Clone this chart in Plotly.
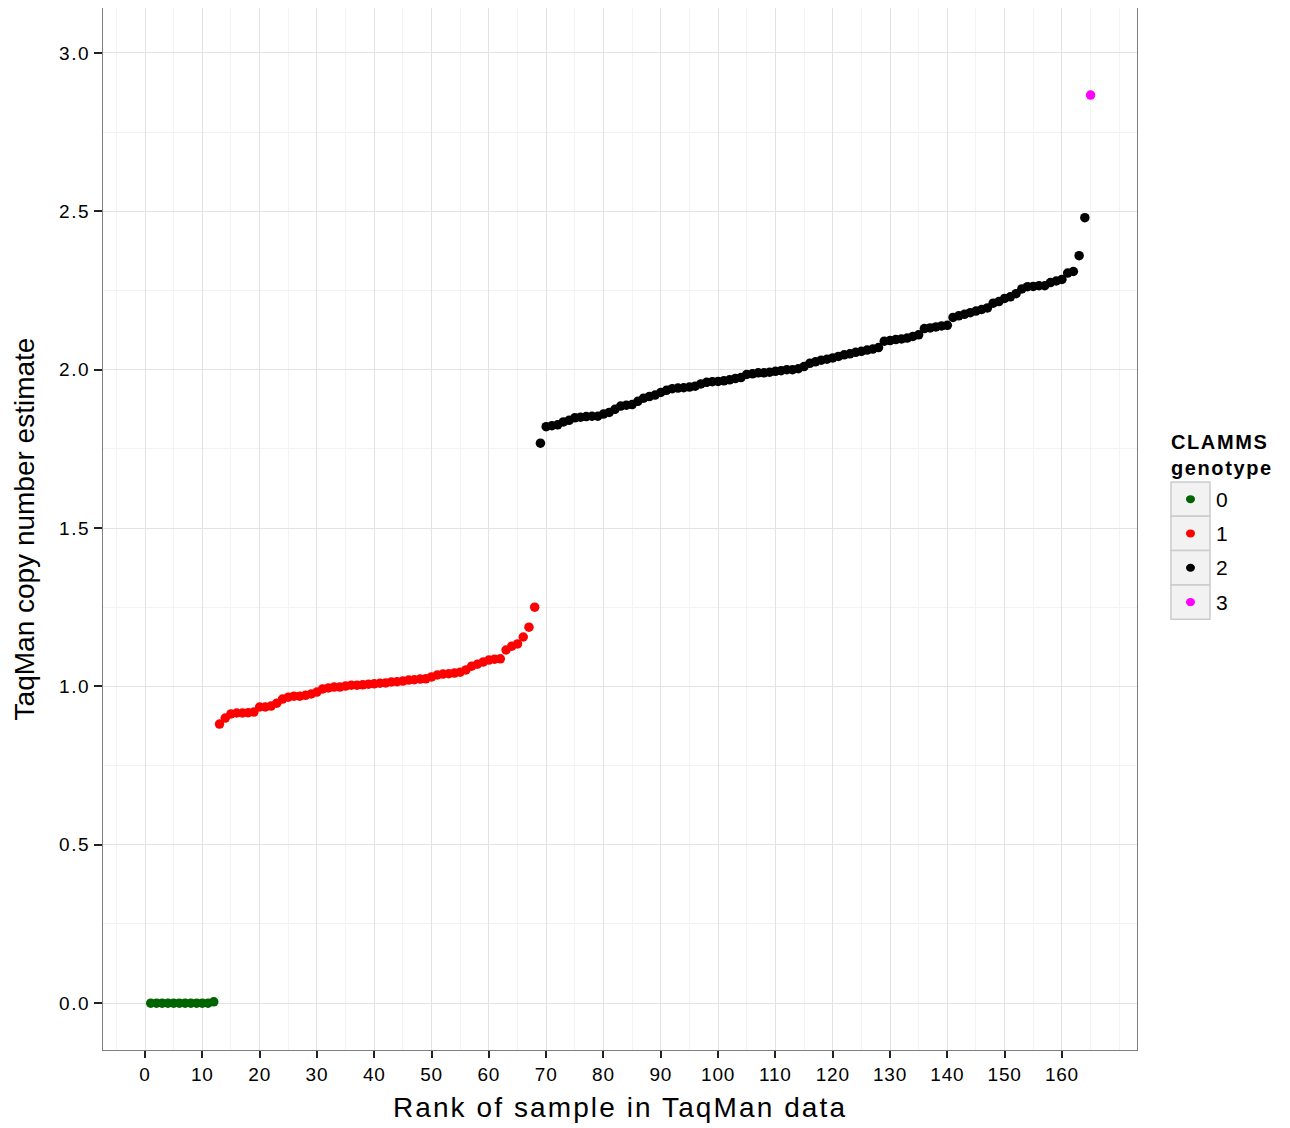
import plotly.graph_objects as go

# ---- data ----
green_rank = list(range(1, 13))
green_val = [0.0, 0.0, 0.0, 0.0, 0.0, 0.0, 0.0, 0.0, 0.0, 0.0, 0.0, 0.004]

red_rank = list(range(13, 69))
red_val = [0.881, 0.900, 0.913, 0.916, 0.916, 0.917, 0.919, 0.935, 0.935, 0.938,
           0.947, 0.960, 0.966, 0.969, 0.969, 0.972, 0.976, 0.982, 0.992, 0.995,
           0.998, 0.998, 1.001, 1.004, 1.004, 1.005, 1.007, 1.008, 1.010, 1.011,
           1.014, 1.015, 1.017, 1.020, 1.021, 1.023, 1.024, 1.030, 1.036, 1.039,
           1.040, 1.042, 1.045, 1.052, 1.064, 1.070, 1.077, 1.083, 1.086, 1.087,
           1.115, 1.127, 1.134, 1.156, 1.187, 1.250]

black_rank = list(range(69, 165))
black_val = [1.768, 1.820, 1.823, 1.826, 1.835, 1.840, 1.848, 1.850, 1.852, 1.853,
             1.853, 1.860, 1.865, 1.875, 1.885, 1.888, 1.890, 1.900, 1.910, 1.915,
             1.920, 1.928, 1.935, 1.940, 1.942, 1.943, 1.945, 1.948, 1.955, 1.960,
             1.962, 1.963, 1.965, 1.968, 1.972, 1.975, 1.985, 1.987, 1.990, 1.990,
             1.992, 1.995, 1.997, 2.000, 2.000, 2.003, 2.010, 2.020, 2.025, 2.030,
             2.033, 2.037, 2.042, 2.047, 2.050, 2.055, 2.058, 2.062, 2.065, 2.070,
             2.090, 2.092, 2.095, 2.097, 2.100, 2.105, 2.110, 2.130, 2.132, 2.135,
             2.138, 2.140, 2.165, 2.170, 2.175, 2.180, 2.185, 2.190, 2.195, 2.210,
             2.215, 2.225, 2.230, 2.240, 2.255, 2.262, 2.263, 2.265, 2.265, 2.275,
             2.280, 2.285, 2.305, 2.310, 2.360, 2.480]

magenta_rank = [165]
magenta_val = [2.867]

legend_labels = ["0", "1", "2", "3"]
colors = ["#006400", "#FF0000", "#000000", "#FF00FF"]

x_ticks = list(range(0, 170, 10))
y_ticks = [0.0, 0.5, 1.0, 1.5, 2.0, 2.5, 3.0]

# ---- figure ----
fig = go.Figure()
series = [(green_rank, green_val), (red_rank, red_val),
          (black_rank, black_val), (magenta_rank, magenta_val)]
for (xs, ys), c, lab in zip(series, colors, legend_labels):
    fig.add_trace(go.Scatter(x=xs, y=ys, mode="markers", name=lab,
                             marker=dict(color=c, size=9.5, line=dict(width=0)),
                             showlegend=False))

FONT = "Liberation Sans, Arial, sans-serif"
OFF = 8  # page body offset
W, H = 1282, 1120
L, R, T, B = 103 - OFF, 1137 - OFF, 0, 1050 - OFF


def sp(text, ls):
    return '<span style="letter-spacing:%spx">%s</span>' % (ls, text)


fig.update_layout(
    width=W, height=H,
    margin=dict(l=L, r=W - R, t=T, b=H - B, pad=0),
    paper_bgcolor="white", plot_bgcolor="white",
    font=dict(family=FONT, color="#000000"),
)

fig.update_xaxes(
    range=[-7.33, 173.1], tickvals=x_ticks, ticktext=[sp(str(v), 0.8) for v in x_ticks],
    showgrid=True, gridcolor="#e3e3e3", gridwidth=1,
    minor=dict(dtick=5, tick0=5, showgrid=True, gridcolor="#f3f3f3", gridwidth=1, ticks=""),
    showline=True, linecolor="#7f7f7f", linewidth=1, mirror=True,
    ticks="outside", ticklen=7, tickcolor="#222222", tickwidth=2,
    tickfont=dict(size=19, family=FONT, color="#000000"),
    zeroline=False,
    title=dict(text=sp("Rank of sample in TaqMan data", 2.1),
               font=dict(size=28, family=FONT), standoff=13),
)
fig.update_yaxes(
    range=[-0.148, 3.142], tickvals=y_ticks, ticktext=[sp("%.1f" % v, 1.6) for v in y_ticks],
    showgrid=True, gridcolor="#e3e3e3", gridwidth=1,
    minor=dict(dtick=0.25, tick0=0.25, showgrid=True, gridcolor="#f3f3f3", gridwidth=1, ticks=""),
    showline=True, linecolor="#7f7f7f", linewidth=1, mirror=True,
    ticks="outside", ticklen=8, tickcolor="#222222", tickwidth=2,
    tickfont=dict(size=19, family=FONT, color="#000000"),
    zeroline=False,
    title=dict(text="TaqMan copy number estimate", font=dict(size=28, family=FONT), standoff=16),
)

# ---- manual legend (ggplot style) ----
def px(xp):
    return (xp - OFF - L) / (R - L)


def py(yp):
    return (B - (yp - OFF)) / (B - T)


fig.add_annotation(x=px(1169), y=py(429), xref="paper", yref="paper",
                   text="<b>" + sp("CLAMMS", 1.6) + "<br>" + sp("genotype", 1.6) + "</b>",
                   showarrow=False, xanchor="left", yanchor="top", align="left",
                   font=dict(size=20, family=FONT, color="#000000"))
row_top = 482
row_h = 34.3
for i, (lab, c) in enumerate(zip(legend_labels, colors)):
    y0 = row_top + i * row_h
    y1 = y0 + row_h
    fig.add_shape(type="rect", xref="paper", yref="paper",
                  x0=px(1171), x1=px(1210), y0=py(y1), y1=py(y0),
                  line=dict(color="#cccccc", width=1.5), fillcolor="#f2f2f2", layer="above")
    cy = (y0 + y1) / 2
    fig.add_shape(type="circle", xref="paper", yref="paper",
                  xsizemode="pixel", ysizemode="pixel",
                  xanchor=px(1190.5), yanchor=py(cy),
                  x0=-4.5, x1=4.5, y0=-4, y1=4,
                  line=dict(width=0), fillcolor=c, layer="above")
    fig.add_annotation(x=px(1214), y=py(cy), xref="paper", yref="paper",
                       text=lab, showarrow=False, xanchor="left", yanchor="middle",
                       font=dict(size=21, family=FONT, color="#000000"))

fig.write_html("out.html")
